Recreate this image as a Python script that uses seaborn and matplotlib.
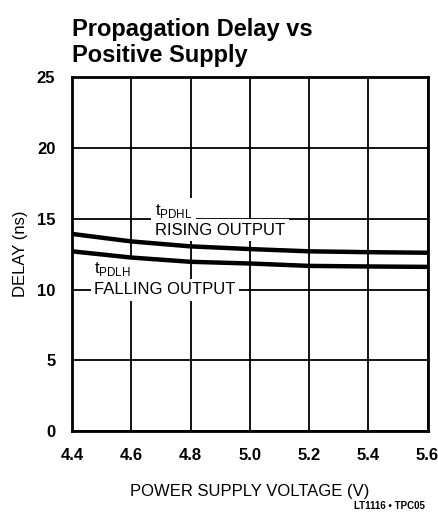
import numpy as np
import pandas as pd
import matplotlib
matplotlib.use("Agg")
import matplotlib.pyplot as plt
import seaborn as sns

voltage = [4.4, 4.6, 4.8, 5.0, 5.2, 5.4, 5.6]
rising = [13.93, 13.4, 13.05, 12.86, 12.7, 12.64, 12.6]
falling = [12.7, 12.26, 11.96, 11.84, 11.67, 11.63, 11.6]
x_ticks = [4.4, 4.6, 4.8, 5.0, 5.2, 5.4, 5.6]
y_ticks = [0, 5, 10, 15, 20, 25]

sns.set_theme(style="white")
plt.rcParams["font.family"] = ["Liberation Sans", "DejaVu Sans"]
plt.rcParams["text.color"] = "black"
plt.rcParams["axes.labelcolor"] = "black"
plt.rcParams["xtick.color"] = "black"
plt.rcParams["ytick.color"] = "black"

df = pd.DataFrame({
    "V": voltage * 2,
    "Delay": rising + falling,
    "Series": ["rising"] * len(voltage) + ["falling"] * len(voltage),
})

fig = plt.figure(figsize=(4.39, 5.15), dpi=100)
ax = fig.add_axes([0.164, 0.163, 0.81, 0.687])

sns.lineplot(data=df, x="V", y="Delay", hue="Series", palette=["black", "black"],
             linewidth=3.2, legend=False, ax=ax, zorder=3)

ax.set_xlim(4.4, 5.6)
ax.set_ylim(0, 25)
ax.set_xticks(x_ticks)
ax.set_xticklabels([f"{v:.1f}" for v in x_ticks], fontsize=12, fontweight="bold")
ax.set_yticks(y_ticks)
ax.set_yticklabels([str(v) for v in y_ticks], fontsize=12, fontweight="bold")
ax.tick_params(axis="x", length=0, pad=12)
ax.tick_params(axis="y", length=0, pad=12)
ax.grid(True, color="black", linewidth=1.3)
ax.set_axisbelow(True)
for s in ax.spines.values():
    s.set_color("black")
    s.set_linewidth(2)

ax.set_xlabel("POWER SUPPLY VOLTAGE (V)", fontsize=12, labelpad=15)
ax.set_ylabel("DELAY (ns)", fontsize=12, labelpad=6)

bbox = dict(facecolor="white", edgecolor="none", pad=2.5)
ax.text(4.68, 15.55, "t$_{\\mathregular{PDHL}}$", fontsize=12,
        ha="left", va="center", bbox=bbox, zorder=2)
ax.text(4.68, 14.2, "RISING OUTPUT", fontsize=12,
        ha="left", va="center", bbox=bbox, zorder=2)
ax.text(4.475, 11.45, "t$_{\\mathregular{PDLH}}$", fontsize=12,
        ha="left", va="center", bbox=bbox, zorder=2)
ax.text(4.475, 10.0, "FALLING OUTPUT", fontsize=12,
        ha="left", va="center", bbox=bbox, zorder=2)

fig.text(0.164, 0.966, "Propagation Delay vs\nPositive Supply", fontsize=17,
         fontweight="bold", ha="left", va="top", linespacing=1.22)
fig.text(0.968, 0.008, "LT1116 • TPC05", fontsize=7, fontweight="bold",
         ha="right", va="bottom")

fig.savefig("out.png", dpi=100)
